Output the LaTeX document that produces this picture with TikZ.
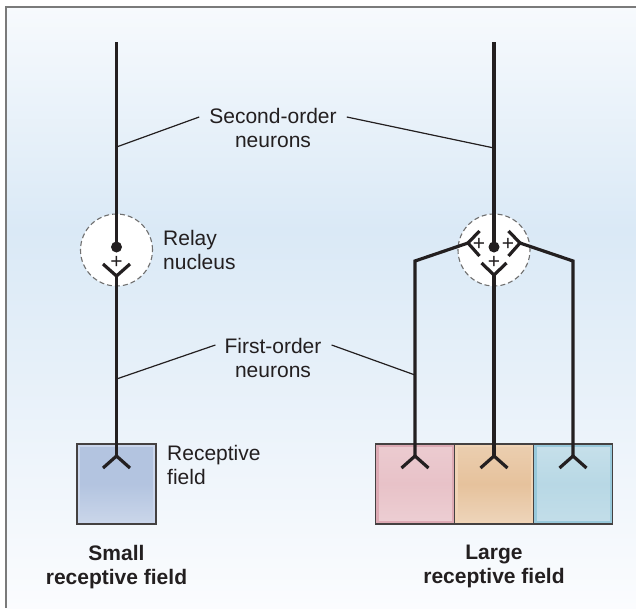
\documentclass[tikz,border=0pt]{standalone}
\usepackage{fontspec}
\setmainfont{Liberation Sans}
\usetikzlibrary{calc}
\definecolor{ink}{HTML}{231F20}
\definecolor{framegrey}{HTML}{7A7A7A}
\definecolor{bgtop}{HTML}{F7FAFD}
\definecolor{bgmid}{HTML}{DAE9F6}
\definecolor{bgbot}{HTML}{FBFCFE}
\definecolor{nuclgrey}{HTML}{707070}
\definecolor{rfblue}{HTML}{B3C4E0}
\definecolor{rfblueedge}{HTML}{CAD6EC}
\definecolor{rfpink}{HTML}{E8C2C8}
\definecolor{rfpinkedge}{HTML}{DDAAB4}
\definecolor{rforange}{HTML}{E6C29C}
\definecolor{rforangeedge}{HTML}{F0D4B6}
\definecolor{rfcyan}{HTML}{B8D8E5}
\definecolor{rfcyanedge}{HTML}{98C9DB}

\begin{document}
\begin{tikzpicture}[
    x=1pt, y=-1pt,
    lbl/.style={font=\fontsize{21}{24}\selectfont, text=ink, inner sep=0pt},
    bold/.style={lbl, font=\fontsize{21}{24}\selectfont\bfseries},
    axon/.style={line width=3.2pt, draw=ink, line join=miter},
    leader/.style={line width=1.2pt, draw=ink},
    nucleus/.style={circle, draw=nuclgrey, dash pattern=on 5pt off 3pt,
                    fill=white, line width=1.1pt, minimum size=72pt, inner sep=0pt},
    soma/.style={circle, fill=ink, minimum size=11pt, inner sep=0pt},
    plusmark/.style={font=\fontsize{21}{21}\selectfont, text=ink, inner sep=0pt},
    rf/.style={rectangle, line width=3pt, minimum width=76pt, minimum height=77pt,
               inner sep=0pt},
    rfline/.style={line width=1.2pt, draw=ink!85},
]
\useasboundingbox (0,0) rectangle (636,608);

% ================================================== background and frame
\fill[white] (0,0) rectangle (636,608);
\shade[top color=bgtop, bottom color=bgmid] (6,7) rectangle (636,230);
\shade[top color=bgmid, bottom color=bgbot] (6,230) rectangle (636,608);
\draw[framegrey, line width=2pt] (6,608) -- (6,7) -- (636,7);

% ================================================== receptive fields
\node[rf, draw=rfblueedge, top color=rfblue, bottom color=rfblue!70!white,
      middle color=rfblue] (fieldS) at (116.5,484) {};
\node[rf, draw=rfpinkedge, top color=rfpink!85!white, bottom color=rfpink!80!white,
      middle color=rfpink] (fieldP) at (415,484) {};
\node[rf, draw=rforangeedge, top color=rforange!80!white, bottom color=rforange!70!white,
      middle color=rforange] (fieldO) at (494,484) {};
\node[rf, draw=rfcyanedge, top color=rfcyan!80!white, bottom color=rfcyan!85!white,
      middle color=rfcyan] (fieldC) at (573,484) {};
\foreach \n in {S,P,O,C}{
  \draw[rfline] (field\n.north west) rectangle (field\n.south east);}

% dendritic endings in the fields
\foreach \x/\n in {116.5/S, 415/P, 494/O, 573/C}{
  \coordinate (end\n) at (\x,456);
  \draw[axon] ($(end\n)+(-13.5,12)$) -- (end\n) -- ($(end\n)+(13.5,12)$);}

% ================================================== relay nuclei
\node[nucleus] (nucS) at (116.5,250) {};
\node[nucleus] (nucL) at (494,250) {};

% ================================================== small field: one line
\coordinate (topS) at (116.5,42);
\node[soma] (somaS) at (116.5,247) {};
\coordinate (synS) at (116.5,276);
\draw[axon] (topS) -- (somaS.center);
\draw[axon] ($(synS)+(-13.5,-12)$) -- (synS) -- ($(synS)+(13.5,-12)$);
\draw[axon] (synS) -- (endS);
\node[plusmark] at (116.5,262) {+};

% ================================================== large field: three converge
\coordinate (topL) at (494,42);
\node[soma] (somaL) at (494,247) {};
\draw[axon] (topL) -- (somaL.center);

\coordinate (synO) at (494,275);
\draw[axon] ($(synO)+(-12.5,-12)$) -- (synO) -- ($(synO)+(12.5,-12)$);
\draw[axon] (synO) -- (endO);
\node[plusmark] at (494,262) {+};

\coordinate (synP) at (468,243);
\coordinate (bendP) at (415,261);
\draw[axon] ($(synP)+(11.5,-12)$) -- (synP) -- ($(synP)+(11.5,13)$);
\draw[axon] (synP) -- (bendP) -- (endP);
\node[plusmark] at (479,244) {+};

\coordinate (synC) at (520,243);
\coordinate (bendC) at (573,261);
\draw[axon] ($(synC)+(-11.5,-12)$) -- (synC) -- ($(synC)+(-11.5,13)$);
\draw[axon] (synC) -- (bendC) -- (endC);
\node[plusmark] at (508,244) {+};

% ================================================== labels
\node[lbl, align=center, anchor=north] (second) at (273,108) {Second-order\\neurons};
\coordinate (secS) at (116.5,147);
\coordinate (secL) at (494,148);
\draw[leader] ($(second.north west)+(-10,9)$) -- (secS);
\draw[leader] ($(second.north east)+(10,9)$) -- (secL);

\node[lbl, align=left, anchor=north west] (relay) at (163,230) {Relay\\nucleus};

\node[lbl, align=center, anchor=north] (first) at (273,338) {First-order\\neurons};
\coordinate (fstS) at (116.5,379);
\coordinate (fstP) at (415,375);
\draw[leader] ($(first.north west)+(-9,7)$) -- (fstS);
\draw[leader] ($(first.north east)+(10,7)$) -- (fstP);

\node[lbl, align=left, anchor=north west] (rftext) at (167,445) {Receptive\\field};

\node[bold, align=center, anchor=north] (small) at (116.5,545) {Small\\receptive field};
\node[bold, align=center, anchor=north] (large) at (494,545) {Large\\receptive field};

\end{tikzpicture}
\end{document}
